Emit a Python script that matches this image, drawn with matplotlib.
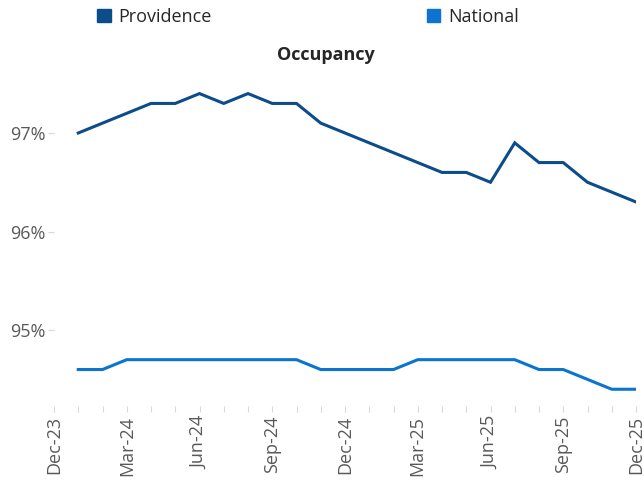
import matplotlib
matplotlib.use("Agg")
import matplotlib.pyplot as plt
from matplotlib.patches import Patch

plt.rcParams['font.family'] = ['Open Sans', 'DejaVu Sans']

# months Dec-23 .. Dec-25, data starts Jan-24
months = ['Dec-23', 'Jan-24', 'Feb-24', 'Mar-24', 'Apr-24', 'May-24', 'Jun-24',
          'Jul-24', 'Aug-24', 'Sep-24', 'Oct-24', 'Nov-24', 'Dec-24',
          'Jan-25', 'Feb-25', 'Mar-25', 'Apr-25', 'May-25', 'Jun-25',
          'Jul-25', 'Aug-25', 'Sep-25', 'Oct-25', 'Nov-25', 'Dec-25']
shown_labels = ['Dec-23', 'Mar-24', 'Jun-24', 'Sep-24', 'Dec-24',
                'Mar-25', 'Jun-25', 'Sep-25', 'Dec-25']

providence = [97.0, 97.1, 97.2, 97.3, 97.3, 97.4, 97.3, 97.4, 97.3, 97.3, 97.1, 97.0,
              96.9, 96.8, 96.7, 96.6, 96.6, 96.5, 96.9, 96.7, 96.7, 96.5, 96.4, 96.3]
national = [94.6, 94.6, 94.7, 94.7, 94.7, 94.7, 94.7, 94.7, 94.7, 94.7, 94.6, 94.6,
            94.6, 94.6, 94.7, 94.7, 94.7, 94.7, 94.7, 94.6, 94.6, 94.5, 94.4, 94.4]

yticks = [95, 96, 97]

c_prov = '#0B4C8A'
c_nat = '#0A74D0'
gray = '#595959'

fig = plt.figure(figsize=(6.44, 4.8), dpi=100)
ax = fig.add_axes([54 / 644, 1 - 406 / 480, (636 - 54) / 644, (406 - 65) / 480])

x = list(range(1, len(months)))
ax.plot(x, providence, color=c_prov, lw=2.2, solid_joinstyle='miter')
ax.plot(x, national, color=c_nat, lw=2.2, solid_joinstyle='miter')

ax.set_xlim(0, len(months) - 1)
ax.set_ylim(94.23, 97.69)

ax.set_xticks(range(len(months)))
ax.set_xticklabels([m if m in shown_labels else '' for m in months],
                   rotation=90, fontsize=13, color=gray)
ax.set_yticks(yticks)
ax.set_yticklabels([f'{v}%' for v in yticks], fontsize=13, color=gray)
ax.tick_params(axis='both', length=4, color='#D9D9D9', width=0.8)
ax.tick_params(axis='x', pad=3)
ax.tick_params(axis='y', pad=2)

for s in ax.spines.values():
    s.set_visible(False)

fig.text(0.506, 1 - 55 / 480, 'Occupancy', ha='center', va='center',
         fontsize=13, fontweight='bold', color='#262626')

handles = [Patch(color=c_prov, label='Providence'), Patch(color=c_nat, label='National')]
fig.legend(handles=handles, loc='center left', bbox_to_anchor=(97 / 644, 1 - 17 / 480),
           ncol=2, frameon=False, fontsize=13, handlelength=0.75, handleheight=0.75,
           handletextpad=0.45, columnspacing=11.9, borderpad=0, borderaxespad=0,
           labelcolor='#262626')

fig.savefig('out.png', dpi=100)
